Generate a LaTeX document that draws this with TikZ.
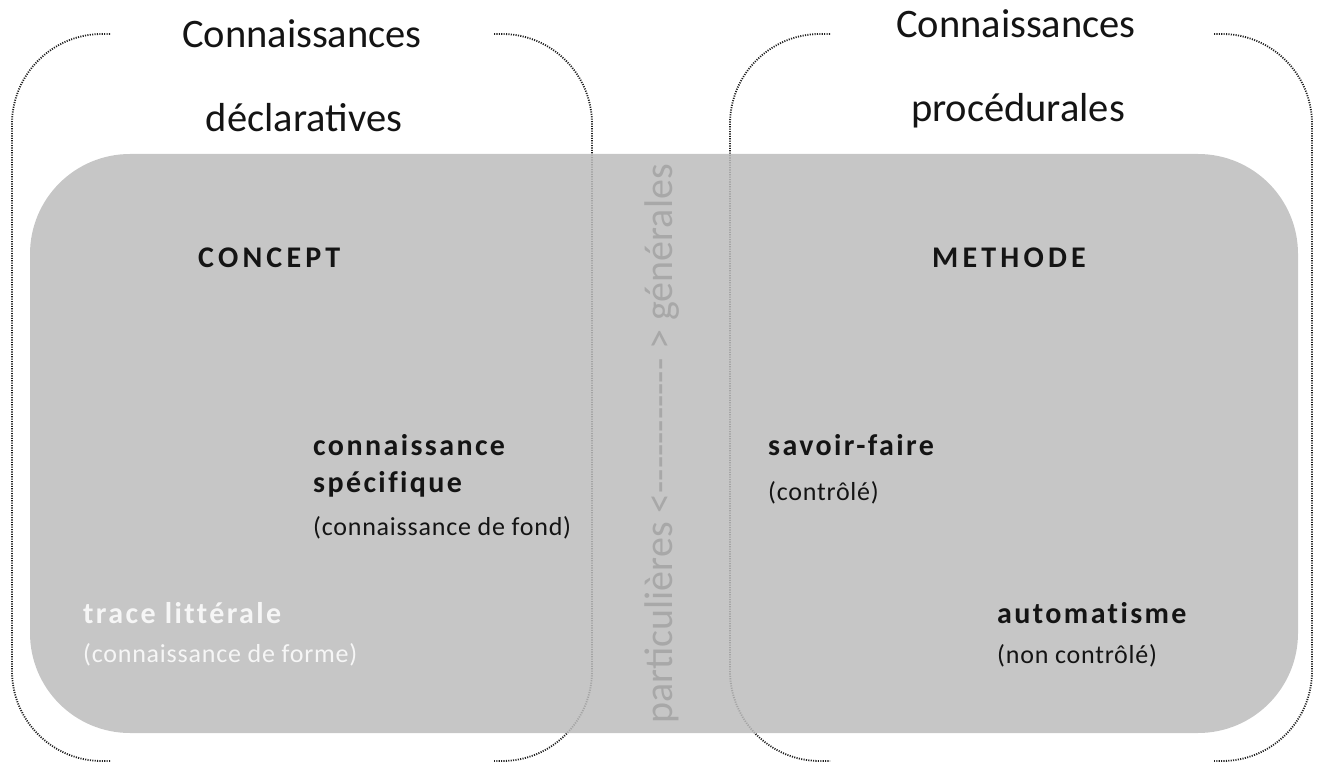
\documentclass[tikz,border=0pt]{standalone}
\usepackage{fontspec}
\setmainfont{Carlito}
\newfontfamily\lblfont[LetterSpace=8,Ligatures=NoCommon]{Carlito}
\newfontfamily\capfont[LetterSpace=14,Ligatures=NoCommon]{Carlito}
\newfontfamily\smfont[LetterSpace=3,Ligatures=NoCommon]{Carlito}
\definecolor{boxgray}{RGB}{188,188,188}
\definecolor{dotcol}{RGB}{30,30,30}
\definecolor{vtext}{RGB}{168,168,168}
\definecolor{whitetxt}{RGB}{246,246,246}
\definecolor{txt}{RGB}{20,20,20}
\tikzset{
  bracket/.style={draw=dotcol, line width=1.8pt, dash pattern=on 1.1pt off 1.3pt, rounded corners=90pt},
  header/.style={font=\fontsize{40.5}{48}\selectfont, text=txt, anchor=base, inner sep=0pt},
  lbl/.style={font=\lblfont\bfseries\fontsize{30}{36}\selectfont, text=txt, anchor=base west, inner sep=0pt},
  caplbl/.style={font=\capfont\bfseries\fontsize{30}{36}\selectfont, text=txt, anchor=base west, inner sep=0pt},
  sub/.style={font=\smfont\fontsize{26}{31}\selectfont, text=txt, anchor=base west, inner sep=0pt},
  vert/.style={font=\fontsize{40}{48}\selectfont, text=vtext, rotate=90, inner sep=0pt}
}
\begin{document}
\begin{tikzpicture}[x=1pt,y=-1pt]
\useasboundingbox (0,0) rectangle (1317,767);
% dotted brackets (left group)
\draw[bracket] (110,34) -- (12,34) -- (12,761) -- (110,761);
\draw[bracket] (494,34) -- (592,34) -- (592,761) -- (494,761);
% dotted brackets (right group)
\draw[bracket] (830,34) -- (730,34) -- (730,761) -- (830,761);
\draw[bracket] (1214,34) -- (1312,34) -- (1312,761) -- (1214,761);
% gray area
\fill[boxgray, fill opacity=0.85, rounded corners=100pt] (30,154) rectangle (1298,733);
% headers
\node[header] (c1) at (302,48) {Connaissances};
\node[header] (d1) at (304,132) {déclaratives};
\node[header] (c2) at (1016,38) {Connaissances};
\node[header] (p2) at (1018,122) {procédurales};
% labels
\node[caplbl] (concept) at (198,268) {CONCEPT};
\node[caplbl] (methode) at (932,268) {METHODE};
\node[lbl] (cs1) at (313,455) {connaissance};
\node[lbl] (cs2) at (313,492) {spécifique};
\node[sub] (cs3) at (313,535) {(connaissance de fond)};
\node[lbl] (sf) at (768,455) {savoir-faire};
\node[sub] (sf2) at (768,500) {(contrôlé)};
\node[lbl, text=whitetxt] (tl) at (83,623) {trace littérale};
\node[sub, text=whitetxt] (tl2) at (83,662) {(connaissance de forme)};
\node[lbl] (au) at (997,623) {automatisme};
\node[sub] (au2) at (997,663) {(non contrôlé)};
% vertical text
\node[vert] (axis) at (662,444) {particulières <-{}-{}-{}-{}-{}-{}-{}-{}-{}-{}-{} > générales};
\end{tikzpicture}
\end{document}
